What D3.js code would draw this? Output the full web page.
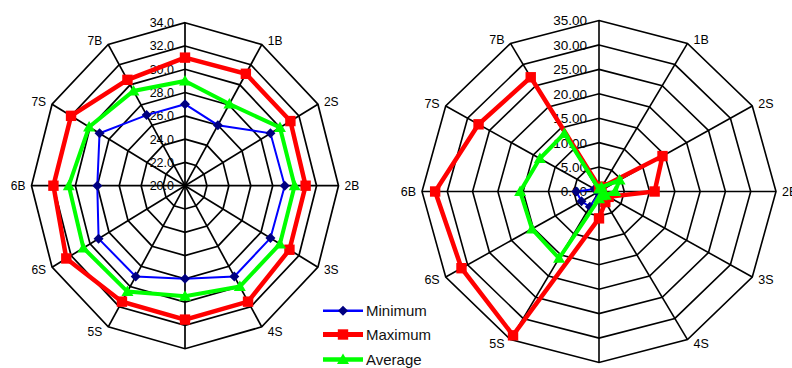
<!DOCTYPE html>
<html>
<head>
<meta charset="utf-8">
<script src="https://cdn.jsdelivr.net/npm/d3@7"></script>
<style>
  html, body { margin: 0; padding: 0; background: #fff; }
  svg { display: block; font-family: "Liberation Sans", Arial, sans-serif; }
</style>
</head>
<body>
<svg id="chart" width="792" height="368"></svg>
<script>
// Spoke names, clockwise from the top (the top and bottom spokes carry no name)
const categories = ["", "1B", "2S", "2B", "3S", "4S", "", "5S", "6S", "6B", "7S", "7B"];

// Left radar (scale 20 – 34)
const leftMinimum = [27.0, 26.0, 29.0, 29.1, 29.0, 29.0, 28.0, 29.0, 29.1, 28.0, 29.0, 27.0];
const leftMaximum = [31.0, 31.1, 31.1, 31.0, 31.0, 31.5, 31.5, 31.5, 32.5, 32.0, 32.0, 30.5];
const leftAverage = [29.0, 28.1, 30.0, 30.0, 30.0, 30.0, 29.5, 30.5, 30.7, 30.6, 30.1, 29.4];
const leftTicks = ["20.0", "22.0", "24.0", "26.0", "28.0", "30.0", "32.0", "34.0"];

// Right radar (scale 0 – 35)
const rightMinimum = [1.0, 0.5, 0.5, 0.5, 0.5, 0.5, 0.5, 3.6, 4.0, 4.5, 1.0, 0.5];
const rightMaximum = [1.0, 1.0, 14.5, 11.0, 2.2, 2.5, 5.5, 34.0, 31.4, 32.4, 27.5, 27.0];
const rightAverage = [0.5, 1.0, 4.7, 3.2, 1.5, 1.0, 1.5, 15.8, 15.3, 15.6, 13.5, 13.7];
const rightTicks = ["0.00", "5.00", "10.00", "15.00", "20.00", "25.00", "30.00", "35.00"];

const seriesNames = ["Minimum", "Maximum", "Average"];

const svg = d3.select("#chart");

const styles = {
  Minimum: { stroke: "#0000ff", fill: "#000080", width: 2, marker: "diamond", size: 5 },
  Maximum: { stroke: "#ff0000", fill: "#ff0000", width: 4.5, marker: "square", size: 5.2 },
  Average: { stroke: "#00ff00", fill: "#00ff00", width: 4, marker: "triangle", size: 6 }
};

function markerPath(kind, s) {
  if (kind === "diamond") return `M0,${-s}L${s},0L0,${s}L${-s},0Z`;
  if (kind === "square") return `M${-s},${-s}H${s}V${s}H${-s}Z`;
  // triangle, apex up
  return `M0,${-s}L${s},${s * 0.75}L${-s},${s * 0.75}Z`;
}

function drawRadar(opt) {
  const n = categories.length;
  const g = svg.append("g");
  const lo = +opt.ticks[0], hi = +opt.ticks[opt.ticks.length - 1];
  const sx = d3.scaleLinear().domain([lo, hi]).range([0, opt.rx]);
  const sy = d3.scaleLinear().domain([lo, hi]).range([0, opt.ry]);
  const angle = d3.scaleLinear().domain([0, n]).range([0, 2 * Math.PI]);
  const pt = (v, i) => [opt.cx + sx(v) * Math.sin(angle(i)), opt.cy - sy(v) * Math.cos(angle(i))];

  // Rings
  const ringValues = opt.ticks.slice(1).map(Number);
  g.selectAll("path.ring").data(ringValues).join("path")
    .attr("class", "ring")
    .attr("d", v => d3.line()(d3.range(n).map(i => pt(v, i))) + "Z")
    .attr("fill", "none").attr("stroke", "#000").attr("stroke-width", opt.gridWidth);

  // Spokes
  g.selectAll("line.spoke").data(d3.range(n)).join("line")
    .attr("class", "spoke")
    .attr("x1", opt.cx).attr("y1", opt.cy)
    .attr("x2", i => pt(hi, i)[0]).attr("y2", i => pt(hi, i)[1])
    .attr("stroke", "#000").attr("stroke-width", opt.gridWidth);

  // Tick labels along the top spoke
  g.selectAll("text.tick").data(opt.ticks).join("text")
    .attr("class", "tick")
    .attr("x", opt.cx - opt.tickGap)
    .attr("y", d => opt.cy - sy(+d))
    .attr("dy", "0.36em")
    .attr("text-anchor", "end")
    .attr("font-size", opt.tickSize)
    .attr("fill", "#000")
    .text(d => d);

  // Category labels
  g.selectAll("text.cat").data(categories).join("text")
    .attr("class", "cat")
    .attr("x", (d, i) => {
      const s = Math.sin(angle(i));
      return pt(hi, i)[0] + (s > 0.01 ? 6 : s < -0.01 ? -6 : 0);
    })
    .attr("y", (d, i) => pt(hi, i)[1] - 5 * Math.cos(angle(i)))
    .attr("dy", "0.36em")
    .attr("text-anchor", (d, i) => {
      const s = Math.sin(angle(i));
      return s > 0.01 ? "start" : s < -0.01 ? "end" : "middle";
    })
    .attr("font-size", opt.catSize)
    .attr("fill", "#000")
    .text(d => d);

  // Series
  opt.series.forEach((vals, k) => {
    const st = styles[seriesNames[k]];
    const pts = vals.map((v, i) => pt(v, i));
    g.append("path")
      .attr("d", d3.line()(pts) + "Z")
      .attr("fill", "none")
      .attr("stroke", st.stroke)
      .attr("stroke-width", st.width)
      .attr("stroke-linejoin", "miter");
    g.selectAll(null).data(pts).join("path")
      .attr("transform", d => `translate(${d[0]},${d[1]})`)
      .attr("d", markerPath(st.marker, st.size))
      .attr("fill", st.fill);
  });
}

drawRadar({
  cx: 185, cy: 185.7, rx: 153.5, ry: 163,
  ticks: leftTicks, tickGap: 11, tickSize: 12.5, catSize: 12, gridWidth: 1.7,
  series: [leftMinimum, leftMaximum, leftAverage]
});

drawRadar({
  cx: 599, cy: 191.5, rx: 177, ry: 171,
  ticks: rightTicks, tickGap: 12, tickSize: 13.5, catSize: 12.5, gridWidth: 1.6,
  series: [rightMinimum, rightMaximum, rightAverage]
});

// Legend
const legend = svg.append("g").attr("transform", "translate(323,0)");
const legendY = [310.7, 334.5, 359.5];
seriesNames.forEach((name, k) => {
  const st = styles[name];
  const row = legend.append("g").attr("transform", `translate(0,${legendY[k]})`);
  row.append("line").attr("x1", 0).attr("x2", 40).attr("y1", 0).attr("y2", 0)
    .attr("stroke", st.stroke).attr("stroke-width", st.width + 0.5);
  row.append("path").attr("transform", "translate(20,0)")
    .attr("d", markerPath(st.marker, st.size)).attr("fill", st.fill);
  row.append("text").attr("x", 43).attr("dy", "0.36em")
    .attr("font-size", 15).attr("fill", "#111").text(name);
});
</script>
</body>
</html>
